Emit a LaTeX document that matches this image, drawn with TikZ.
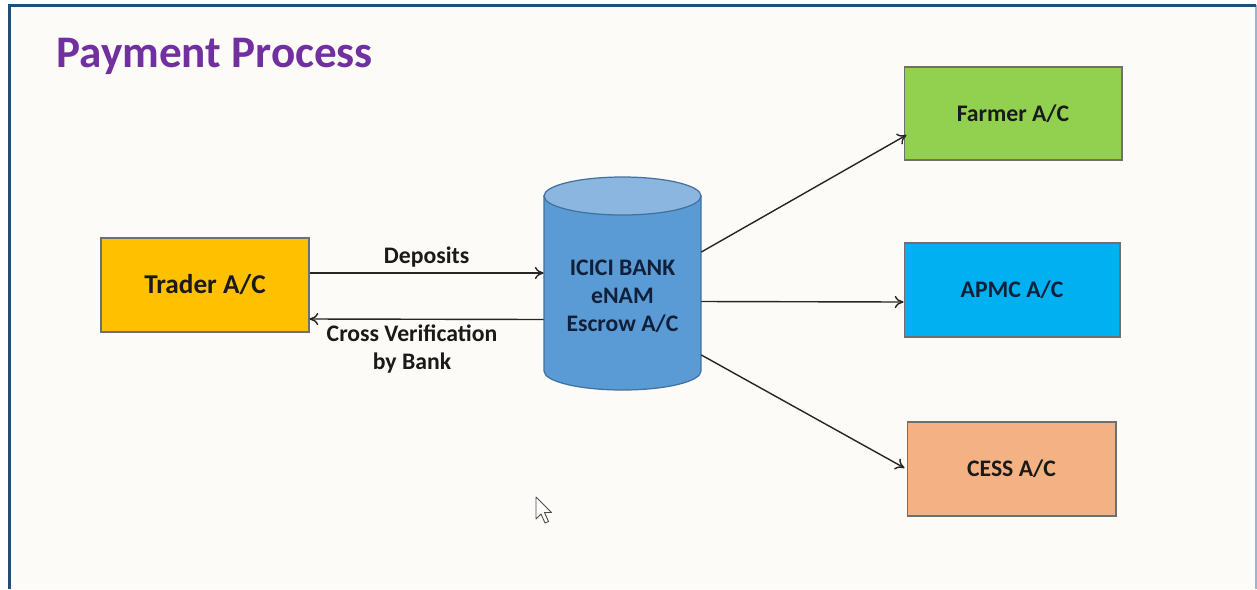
\documentclass[tikz,border=0pt]{standalone}
\usepackage{fontspec}
\setmainfont{Carlito}
\usetikzlibrary{arrows.meta,calc}
\definecolor{pagebg}{HTML}{FDFBF7}
\definecolor{frameblue}{HTML}{1F4E79}
\definecolor{framelight}{HTML}{9DB3CF}
\definecolor{titlepurple}{HTML}{7030A0}
\definecolor{traderfill}{HTML}{FFC000}
\definecolor{farmerfill}{HTML}{92D050}
\definecolor{apmcfill}{HTML}{00B0F0}
\definecolor{cessfill}{HTML}{F4B183}
\definecolor{boxedge}{HTML}{6F6F6F}
\definecolor{cylbody}{HTML}{5B9BD5}
\definecolor{cyltop}{HTML}{8AB6E0}
\definecolor{cyledge}{HTML}{41719C}
\definecolor{textdark}{HTML}{1A1A1A}
\definecolor{textnavy}{HTML}{10203A}
\tikzset{
  acct/.style={draw=boxedge, line width=0.6pt, inner sep=0pt, text=textdark,
    font=\bfseries\fontsize{13.5}{16}\selectfont},
  arr/.style={-{To[length=5pt,width=7pt]}, line width=0.8pt, draw=black!85},
  lbl/.style={font=\bfseries\fontsize{13.5}{15.4}\selectfont, text=textdark, align=center, inner sep=0pt},
}
\begin{document}
\begin{tikzpicture}[x=0.02cm,y=-0.02cm]
\useasboundingbox (0,0) rectangle (1257,589);
\fill[white] (0,0) rectangle (1257,589);
\fill[pagebg] (9,5) rectangle (1256,589);
\draw[framelight, line width=1pt] (1256,5) -- (1256,589);
\draw[frameblue, line width=1.6pt] (9.5,589) -- (9.5,5.5) -- (1256,5.5);

% title
\node[anchor=base west, inner sep=0pt, text=titlepurple,
  font=\bfseries\fontsize{25.7}{30}\selectfont] (title) at (56,67) {Payment Process};

% account boxes
\node[acct, fill=traderfill, minimum width=4.16cm, minimum height=1.88cm,
  font=\bfseries\fontsize{15.5}{18}\selectfont] (trader) at (205,285) {Trader A/C};
\node[acct, fill=farmerfill, minimum width=4.36cm, minimum height=1.86cm] (farmer) at (1013,113.5) {Farmer A/C};
\node[acct, fill=apmcfill, text=textnavy, minimum width=4.32cm, minimum height=1.88cm] (apmc) at (1012,290) {APMC A/C};
\node[acct, fill=cessfill, minimum width=4.18cm, minimum height=1.88cm] (cess) at (1011.5,469) {CESS A/C};

% cylinder
\filldraw[fill=cylbody, draw=cyledge, line width=0.7pt]
  (544,196) -- (544,371) arc[start angle=180, end angle=0, x radius=78.5, y radius=19] -- (701,196) -- cycle;
\filldraw[fill=cyltop, draw=cyledge, line width=0.7pt] (622.5,196) ellipse [x radius=78.5, y radius=19];
\node[inner sep=0pt, minimum width=3.14cm, minimum height=4.26cm] (bank) at (622.5,283.5) {};
\node[inner sep=0pt, align=center, font=\bfseries\fontsize{13.5}{15.9}\selectfont, text=textnavy]
  (banktext) at (622.5,296) {ICICI BANK\\eNAM\\Escrow A/C};

% connectors
\draw[arr] ($(trader.east)+(0,-12)$) -- node[lbl, above=3pt] (dep) {Deposits} ($(bank.west)+(0,-10.5)$);
\draw[arr] ($(bank.west)+(0,36)$) -- ($(trader.east)+(0,34)$);
\node[lbl] (cross) at (412,349) {Cross Verification\\by Bank};
\draw[arr] ($(bank.east)+(0,-31.5)$) -- ($(farmer.west)+(3,21.5)$);
\draw[arr] ($(bank.east)+(0,18)$) -- ($(apmc.west)+(0,12)$);
\draw[arr] ($(bank.east)+(0,71.5)$) -- ($(cess.west)+(-2,-1)$);

% mouse cursor
\filldraw[fill=white, draw=black!70, line width=0.5pt, line join=round]
  (536,497) -- (536,519) -- (541,514) -- (545,523) -- (548.5,521.5) -- (544.5,512.5) -- (551.5,512.5) -- cycle;
\end{tikzpicture}
\end{document}
